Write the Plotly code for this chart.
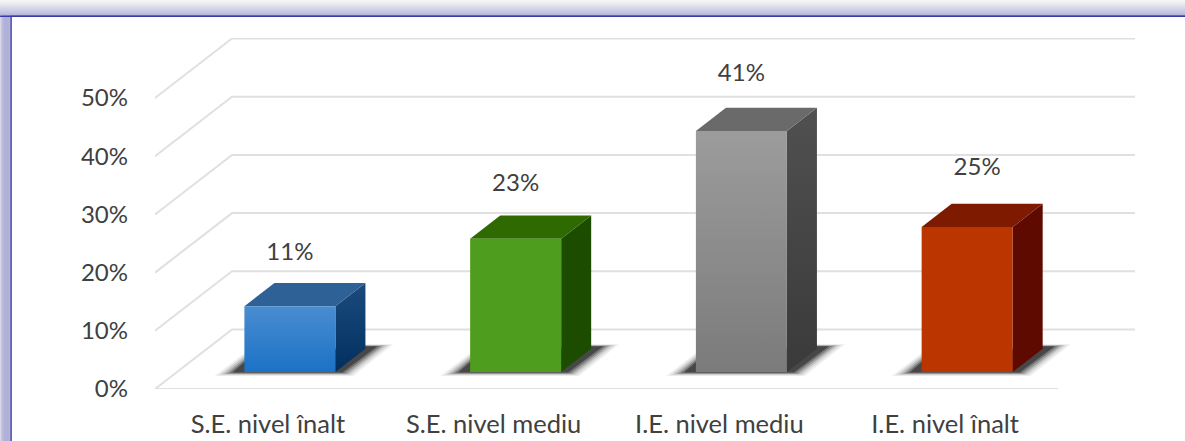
import plotly.graph_objects as go

# ---- data ----
categories = ["S.E. nivel înalt", "S.E. nivel mediu", "I.E. nivel mediu", "I.E. nivel înalt"]
values = [11.3, 22.9, 41.4, 24.9]
y_ticks = [0, 10, 20, 30, 40, 50]

# ---- style: face colours per bar ----
front_bottom = ["#1b72c6", "#4f9d1e", "#7b7b7b", "#ba3500"]
front_top = ["#4a8dd0", "#4f9d1e", "#9c9c9c", "#ba3500"]
top_face = ["#2e6296", "#2f6a00", "#6a6a6a", "#7d1a00"]
side_bottom = ["#00305f", "#1c4c00", "#3a3a3a", "#5f0a00"]
side_top = ["#1c4a7e", "#1c4c00", "#505050", "#5f0a00"]
label_dx_px = [0, 0, 0, 10]
label_up = [8.9, 9.2, 9.7, 10.0]

TEXT = "#404040"
FONT = "Lato"
GRID = "#e0e0e0"

# ---- pseudo-3D projection in axis units ----
W, H = 1185, 441
L, R, T, B = 155, 50, 38, 52
PX_X = 225.75           # px per category
PX_Y = 5.82             # px per percentage point
DEPTH_X = 77 / PX_X     # x shift of the back wall
DEPTH_Y = 59.5 / PX_Y   # y shift of the back wall
BAR_W = 91 / PX_X
BAR_D0, BAR_D1 = 0.286, 0.676


def proj(x, y, d):
    return x + d * DEPTH_X, y + d * DEPTH_Y


def poly(points, **kw):
    xs, ys = zip(*points)
    return go.Scatter(x=list(xs) + [xs[0]], y=list(ys) + [ys[0]], mode="lines", fill="toself",
                      line=dict(width=0), hoverinfo="skip", showlegend=False, **kw)


def shifted(p, dx_px, dy_px):
    return p[0] + dx_px / PX_X, p[1] + dy_px / PX_Y


fig = go.Figure()

# gridlines: back wall + side wall + floor front edge
x_lo, x_hi = -0.5, 3.5
for v in y_ticks:
    xs, ys = zip(proj(x_lo, v, 0), proj(x_lo, v, 1), proj(x_hi, v, 1))
    fig.add_trace(go.Scatter(x=xs, y=ys, mode="lines", line=dict(color=GRID, width=2),
                             hoverinfo="skip", showlegend=False))
fig.add_trace(go.Scatter(x=[x_lo, x_hi], y=[0, 0], mode="lines", line=dict(color=GRID, width=2),
                         hoverinfo="skip", showlegend=False))

# bars
for i, v in enumerate(values):
    x0, x1 = i - BAR_W / 2, i + BAR_W / 2
    fl = proj(x0, 0, BAR_D0)
    fr = proj(x1, 0, BAR_D0)
    br = proj(x1, 0, BAR_D1)
    # floor shadow, layered to fade outward
    for g, alpha in [(1.0, 0.06), (0.8, 0.08), (0.6, 0.12), (0.4, 0.18), (0.2, 0.25), (0.0, 0.4)]:
        fig.add_trace(poly([
            shifted(fl, 0, 10 + 9 * g),
            shifted(fl, -12 - 18 * g, -0.5 - 3.5 * g),
            shifted(fr, 7 + 11 * g, -0.5 - 3.5 * g),
            shifted(br, 12 + 16 * g, 2.5 + 2 * g),
            shifted(br, 0, 2.5 + 2 * g),
        ], fillcolor=f"rgba(0,0,0,{alpha})"))
    # side face
    fig.add_trace(poly([
        proj(x1, 0, BAR_D0), proj(x1, 0, BAR_D1),
        proj(x1, v, BAR_D1), proj(x1, v, BAR_D0),
    ], fillgradient=dict(type="vertical", colorscale=[[0, side_bottom[i]], [1, side_top[i]]])))
    # top face
    fig.add_trace(poly([
        proj(x0, v, BAR_D0), proj(x1, v, BAR_D0),
        proj(x1, v, BAR_D1), proj(x0, v, BAR_D1),
    ], fillcolor=top_face[i]))
    # front face
    fig.add_trace(poly([
        proj(x0, 0, BAR_D0), proj(x1, 0, BAR_D0),
        proj(x1, v, BAR_D0), proj(x0, v, BAR_D0),
    ], fillgradient=dict(type="vertical", colorscale=[[0, front_bottom[i]], [1, front_top[i]]])))

# value labels
lx = [proj(i + label_dx_px[i] / PX_X, 0, BAR_D0)[0] for i in range(len(values))]
ly = [proj(0, v + label_up[i], BAR_D0)[1] for i, v in enumerate(values)]
fig.add_trace(go.Scatter(x=lx, y=ly, mode="text", text=[f"{v:.0f}%" for v in values],
                         textposition="middle center", textfont=dict(family=FONT, size=24, color=TEXT),
                         hoverinfo="skip", showlegend=False, cliponaxis=False))


def px(x):
    return (x - L) / (W - L - R)


def py(y):
    return (H - B - y) / (H - T - B)


# window frame
shapes = []
top_band = ["#f6f6f6", "#f3f3f5", "#efeff3", "#ecebf2", "#e7e7f0", "#e3e3ef", "#dedeec",
            "#d9d9ea", "#d5d5e8", "#d0d0e6", "#ccccE4", "#c8c8e2", "#c4c4e0", "#c0c0de", "#b8b8da", "#9090c8"]
for k, c in enumerate(top_band):
    shapes.append(dict(type="rect", xref="paper", yref="paper", x0=px(0), x1=px(W), y0=py(k), y1=py(k + 1),
                       fillcolor=c, line_width=0, layer="below"))
left_band = ["#d8d8e8", "#c6c6e0", "#bcbcdc", "#b6b6da", "#b2b2d8", "#b0b0d8", "#b0b0d8", "#b0b0d8", "#b2b2d8", "#b4b4da"]
for k, c in enumerate(left_band):
    shapes.append(dict(type="rect", xref="paper", yref="paper", x0=px(k), x1=px(k + 1), y0=py(15), y1=py(H),
                       fillcolor=c, line_width=0, layer="below"))
shapes.append(dict(type="rect", xref="paper", yref="paper", x0=px(0), x1=px(W), y0=py(15.5), y1=py(17),
                   fillcolor="#3a3aa8", line_width=0, layer="below"))
shapes.append(dict(type="rect", xref="paper", yref="paper", x0=px(10.3), x1=px(11.8), y0=py(16), y1=py(H),
                   fillcolor="#3a3aa8", line_width=0, layer="below"))

fig.update_layout(
    width=W, height=H, autosize=False,
    margin=dict(l=L, r=R, t=T, b=B, pad=0, autoexpand=False),
    paper_bgcolor="white", plot_bgcolor="rgba(0,0,0,0)",
    showlegend=False, shapes=shapes,
    xaxis=dict(range=[x_lo, x_hi + DEPTH_X], tickmode="array", tickvals=list(range(len(categories))),
               ticktext=categories, showgrid=False, zeroline=False, showline=False, ticks="", automargin=False,
               ticklabelstandoff=17, tickfont=dict(family=FONT, size=25.5, color=TEXT)),
    yaxis=dict(range=[0, (H - T - B) / PX_Y], tickmode="array", tickvals=y_ticks,
               ticktext=[f"{t}%" for t in y_ticks], showgrid=False, zeroline=False, showline=False, ticks="", automargin=False,
               ticklabelstandoff=26, tickfont=dict(family=FONT, size=24, color=TEXT)),
)

fig.write_html("out.html", config={"displayModeBar": False}, post_script="document.body.style.margin='0';")
